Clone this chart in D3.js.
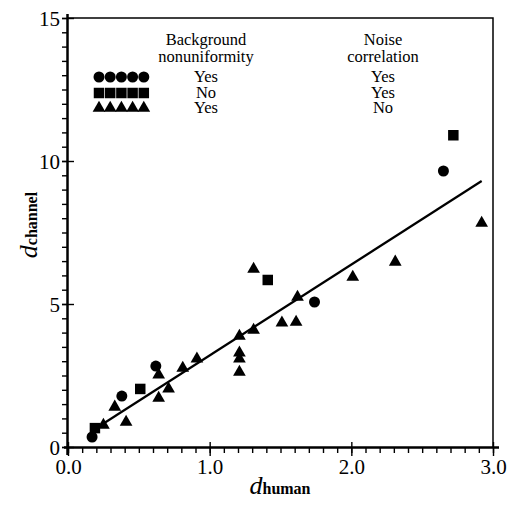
<!DOCTYPE html>
<html><head><meta charset="utf-8">
<script src="https://cdn.jsdelivr.net/npm/d3@7"></script>
<style>body{margin:0;background:#fff}svg{display:block}svg text{font-family:"Liberation Serif","Tinos","Times New Roman",serif !important;fill:#000}</style>
</head><body><svg id="c" width="508" height="508"></svg>
<script>
// Data
const circleX = [0.17, 0.38, 0.62, 1.74, 2.65];
const circleY = [0.35, 1.78, 2.83, 5.07, 9.65];
const squareX = [0.19, 0.51, 1.41, 2.72];
const squareY = [0.66, 2.03, 5.84, 10.9];
const triangleX = [0.25, 0.33, 0.41, 0.64, 0.71, 0.64, 0.81, 0.91, 1.31, 1.62, 1.51, 1.61, 1.31, 1.21, 1.21, 1.21, 1.21, 2.01, 2.31, 2.92];
const triangleY = [0.77, 1.40, 0.87, 2.52, 2.03, 1.71, 2.76, 3.08, 6.22, 5.24, 4.34, 4.37, 4.09, 3.88, 3.29, 3.08, 2.62, 5.94, 6.47, 7.83];
const fitX = [0.19, 2.92];
const fitY = [0.63, 9.30];
const xTickLabels = ["0.0", "1.0", "2.0", "3.0"];
const yTickLabels = ["0", "5", "10", "15"];
const legendHeaders = [["Background", "nonuniformity"], ["Noise", "correlation"]];
const legendBg = ["Yes", "No", "Yes"];
const legendNoise = ["Yes", "Yes", "No"];
const legendShapes = ["circle", "square", "triangle"];

const FONT = '"Liberation Serif","Tinos","Times New Roman",serif';
const svg = d3.select("#c");
const L = 68, R = 493, T = 18, B = 447;
const x = d3.scaleLinear().domain([0, 3]).range([L, R]);
const y = d3.scaleLinear().domain([0, 15]).range([B, T]);

// frame (top/right)
svg.append("path").attr("d", `M${L},${T}H${R}V${B}`).attr("fill", "none").attr("stroke", "#000").attr("stroke-width", 1.5);

// x axis
const xAx = svg.append("g").attr("transform", `translate(0,${B})`)
  .call(d3.axisBottom(x).tickValues(d3.range(0, 31).map(i => i / 10)).tickSize(6).tickFormat(""));
const xMaj = svg.append("g").attr("transform", `translate(0,${B})`)
  .call(d3.axisBottom(x).tickValues(xTickLabels.map(Number)).tickSizeOuter(0).tickSizeInner(9).tickFormat((d, i) => xTickLabels[i]));
[xAx, xMaj].forEach(g => { g.attr("font-family", FONT); g.select(".domain").attr("stroke-width", 2).attr("d", `M${L - 4},0.5H${R + 6}`); g.selectAll("line").attr("stroke-width", 1.4); });
xMaj.selectAll("text").attr("font-size", 21).attr("dy", "0.7em").attr("y", 12);
xMaj.selectAll(".tick").append("line").attr("y2", -5).attr("stroke", "#000").attr("stroke-width", 1.4);

// y axis
const yAx = svg.append("g").attr("transform", `translate(${L},0)`)
  .call(d3.axisLeft(y).tickValues(d3.range(0, 31).map(i => i / 2)).tickSize(6).tickFormat(""));
const yMaj = svg.append("g").attr("transform", `translate(${L},0)`)
  .call(d3.axisLeft(y).tickValues(yTickLabels.map(Number)).tickSizeOuter(0).tickSizeInner(6).tickFormat((d, i) => yTickLabels[i]));
[yAx, yMaj].forEach(g => { g.attr("font-family", FONT); g.select(".domain").attr("stroke-width", 2).attr("d", `M-0.5,${B + 8}V${T - 4}`); g.selectAll("line").attr("stroke-width", 1.4); });
yMaj.selectAll("text").attr("font-size", 21).attr("x", -8).attr("dy", "0.35em");
yMaj.selectAll(".tick").append("line").attr("x2", 6).attr("stroke", "#000").attr("stroke-width", 1.4);
svg.selectAll(".tick text").attr("fill", "#000");

// fit line
svg.append("line").attr("x1", x(fitX[0])).attr("y1", y(fitY[0])).attr("x2", x(fitX[1])).attr("y2", y(fitY[1]))
  .attr("stroke", "#000").attr("stroke-width", 2.2);

// markers
const sym = {
  circle: d3.symbol().type(d3.symbolCircle).size(95),
  square: d3.symbol().type(d3.symbolSquare).size(110),
  triangle: d3.symbol().type(d3.symbolTriangle).size(70)
};
function draw(xs, ys, shape) {
  svg.append("g").selectAll("path").data(xs).join("path")
    .attr("d", sym[shape]())
    .attr("transform", (d, i) => `translate(${x(d)},${y(ys[i])})`)
    .attr("fill", "#000");
}
draw(circleX, circleY, "circle");
draw(squareX, squareY, "square");
draw(triangleX, triangleY, "triangle");

// legend
const lg = svg.append("g").attr("font-family", FONT);
const hdrX = [206, 383];
legendHeaders.forEach((h, j) => h.forEach((t, k) => {
  lg.append("text").attr("x", hdrX[j]).attr("y", 45 + k * 17).attr("text-anchor", "middle").attr("font-size", 16.5).text(t);
}));
const rowY = [77, 93, 108];
legendShapes.forEach((s, r) => {
  for (let i = 0; i < 5; i++) {
    lg.append("path").attr("d", sym[s]()).attr("transform", `translate(${99 + i * 11.2},${rowY[r]})`).attr("fill", "#000");
  }
  lg.append("text").attr("x", hdrX[0]).attr("y", rowY[r] + 5).attr("text-anchor", "middle").attr("font-size", 16.5).text(legendBg[r]);
  lg.append("text").attr("x", hdrX[1]).attr("y", rowY[r] + 5).attr("text-anchor", "middle").attr("font-size", 16.5).text(legendNoise[r]);
});

// axis labels
const xl = svg.append("text").attr("x", 280).attr("y", 494).attr("text-anchor", "middle").attr("font-family", FONT);
xl.append("tspan").attr("font-style", "italic").attr("font-size", 26).text("d");
xl.append("tspan").attr("font-weight", "bold").attr("font-size", 16).text("human");
const yl = svg.append("text").attr("transform", "translate(37,225) rotate(-90)").attr("text-anchor", "middle").attr("font-family", FONT);
yl.append("tspan").attr("font-style", "italic").attr("font-size", 26).text("d");
yl.append("tspan").attr("font-weight", "bold").attr("font-size", 16).text("channel");
</script></body></html>
